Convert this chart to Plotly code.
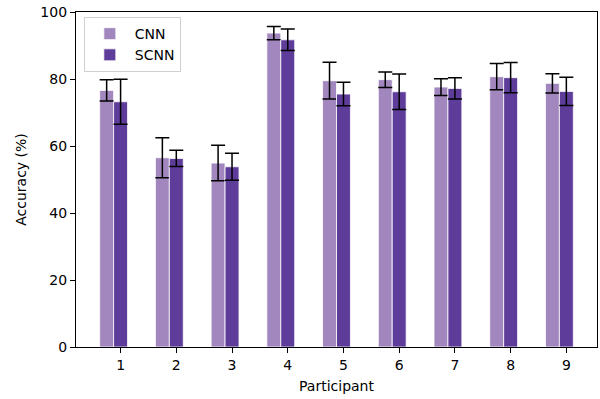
import plotly.graph_objects as go

participants = [1, 2, 3, 4, 5, 6, 7, 8, 9]
cnn_acc = [76.6, 56.5, 54.9, 93.7, 79.5, 79.8, 77.6, 80.7, 78.7]
cnn_err = [3.2, 6.0, 5.3, 2.0, 5.5, 2.3, 2.5, 3.9, 2.9]
scnn_acc = [73.2, 56.3, 53.8, 91.7, 75.5, 76.2, 77.2, 80.4, 76.3]
scnn_err = [6.7, 2.4, 4.0, 3.2, 3.5, 5.3, 3.2, 4.5, 4.2]
tick_labels = [str(p) for p in participants]

bar_w = 0.25
cnn_x = [p - bar_w for p in participants]
scnn_x = participants

err_style = dict(type="data", symmetric=True, color="black", thickness=1.5, width=7)

fig = go.Figure()
fig.add_trace(go.Bar(x=cnn_x, y=cnn_acc, width=bar_w, name="CNN",
                     marker=dict(color="#a287be", line=dict(color="white", width=0.8)),
                     error_y=dict(array=cnn_err, **err_style)))
fig.add_trace(go.Bar(x=scnn_x, y=scnn_acc, width=bar_w, name="SCNN",
                     marker=dict(color="#5e3c99", line=dict(color="white", width=0.8)),
                     error_y=dict(array=scnn_err, **err_style)))

font = dict(family="DejaVu Sans", size=14, color="black")
fig.update_layout(
    width=600, height=399,
    margin=dict(l=76, r=3, t=12, b=52),
    barmode="overlay",
    plot_bgcolor="white", paper_bgcolor="white",
    font=font,
    showlegend=True,
    legend=dict(x=0.015, y=0.985, xanchor="left", yanchor="top",
                bgcolor="rgba(255,255,255,0.8)", bordercolor="#d0d0d0", borderwidth=1,
                font=dict(family="DejaVu Sans", size=14), itemwidth=40),
    xaxis=dict(range=[0.2, 9.55], tickmode="array", tickvals=participants, ticktext=tick_labels,
               showgrid=False, zeroline=False, showline=True, linecolor="black", linewidth=1.2,
               mirror=True, ticks="outside", ticklen=5, tickcolor="black",
               title=dict(text="Participant", font=font, standoff=9)),
    yaxis=dict(range=[0, 100], tickvals=[0, 20, 40, 60, 80, 100],
               showgrid=False, zeroline=False, showline=True, linecolor="black", linewidth=1.2,
               mirror=True, ticks="outside", ticklen=5, tickcolor="black",
               title=dict(text="Accuracy (%)", font=font, standoff=10)),
)

fig.write_html("out.html", config={"displayModeBar": False},
               post_script="document.body.style.margin='0';")
